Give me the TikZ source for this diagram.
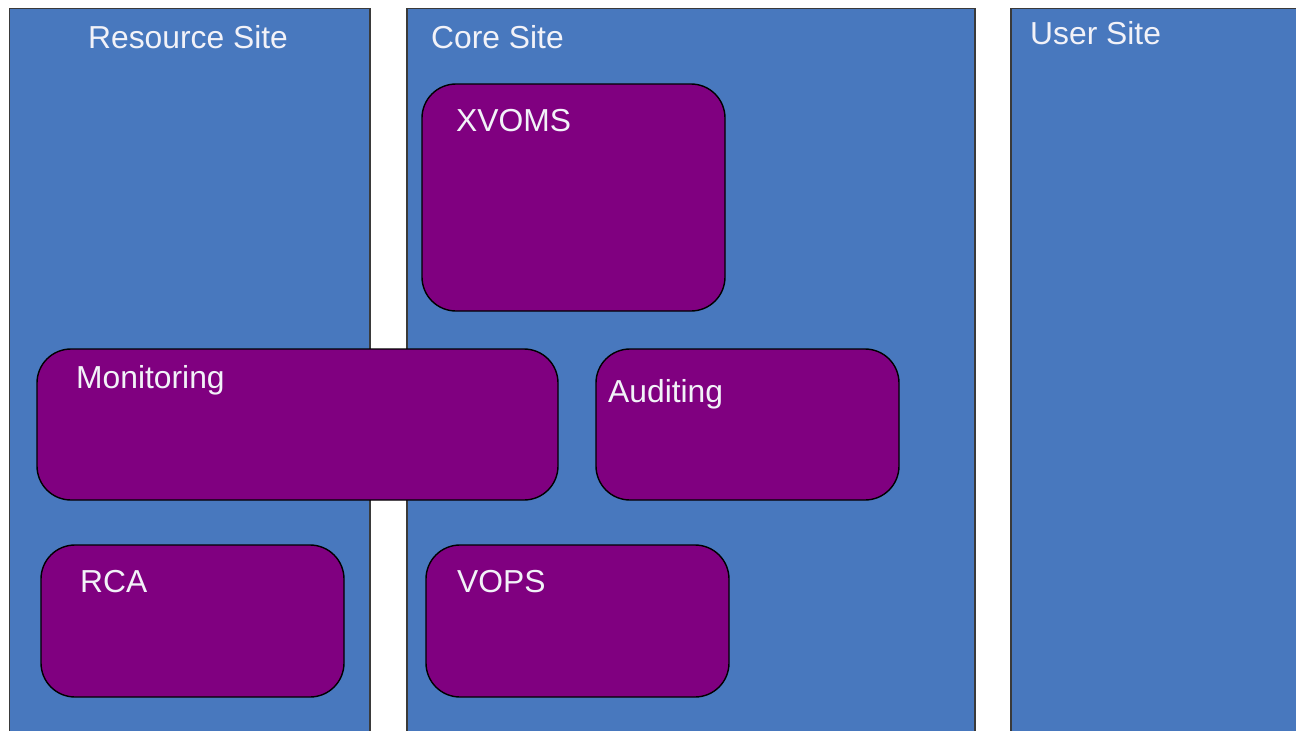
\documentclass[tikz,border=0pt]{standalone}
\usepackage{fontspec}
\setmainfont{Liberation Sans}
\definecolor{siteblue}{HTML}{4878BE}
\definecolor{boxpurple}{HTML}{800080}
\definecolor{sitetext}{HTML}{F2F2F8}
\definecolor{siteedge}{HTML}{3A3A3A}
\begin{document}
\begin{tikzpicture}[x=1pt,y=-1pt,
  site/.style={draw=siteedge,line width=1.6pt,fill=siteblue},
  comp/.style={draw=black,line width=1.4pt,fill=boxpurple,rounded corners=34pt},
  lbl/.style={anchor=base west,text=sitetext,inner sep=0pt,font=\fontsize{31.8}{36}\selectfont}]
\useasboundingbox (0,0) rectangle (1296,731);
\begin{scope}
\clip (0,0) rectangle (1296,731);
\path[site] (9.5,8.5) rectangle (370,760);
\path[site] (407,8.5) rectangle (975,760);
\path[site] (1011,8.5) rectangle (1320,760);
\end{scope}
\node[lbl] (resl) at (88,48) {Resource Site};
\node[lbl] (corel) at (431,48) {Core Site};
\node[lbl] (userl) at (1030,44) {User Site};
\path[comp] (422,84) rectangle (725,311);
\path[comp] (37,349) rectangle (558,500);
\path[comp] (596,349) rectangle (899,500);
\path[comp] (41,545) rectangle (344,697);
\path[comp] (426,545) rectangle (729,697);
\node[lbl] (xvoms) at (456,131) {XVOMS};
\node[lbl] (mon) at (76,388) {Monitoring};
\node[lbl] (aud) at (608,402) {Auditing};
\node[lbl] (rca) at (80,592) {RCA};
\node[lbl] (vops) at (457,592) {VOPS};
\end{tikzpicture}
\end{document}
